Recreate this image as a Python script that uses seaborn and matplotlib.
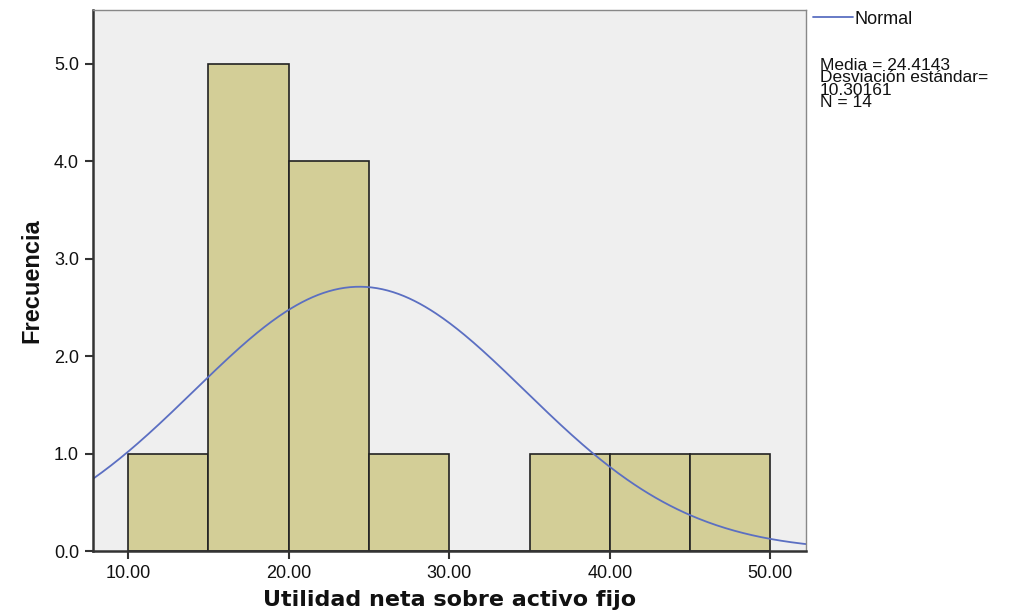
import numpy as np
import pandas as pd
import matplotlib
matplotlib.use("Agg")
import matplotlib.pyplot as plt
import seaborn as sns

# histogram bins
bin_edges = [10, 15, 20, 25, 30, 35, 40, 45, 50]
counts = [1, 5, 4, 1, 0, 1, 1, 1]

# stats printed in the legend
media = 24.4143
desv = 10.30161
n_obs = 14

x_ticks = [10, 20, 30, 40, 50]
y_ticks = [0, 1, 2, 3, 4, 5]

sns.set_style("white")
plt.rcParams["font.family"] = ["Liberation Sans", "DejaVu Sans"]

fig = plt.figure(figsize=(10.11, 6.10), dpi=100)
ax = fig.add_axes([0.092, 0.0967, 0.705, 0.887])
ax.set_facecolor("#efefef")

df = pd.DataFrame({
    "centro": [(a + b) / 2 for a, b in zip(bin_edges[:-1], bin_edges[1:])],
    "n": counts,
})
sns.histplot(data=df, x="centro", weights="n", bins=bin_edges, ax=ax,
             color="#d3ce97", alpha=1, edgecolor="#222222", linewidth=1.2)

# normal curve scaled to counts
xs = np.linspace(7.82, 52.2, 400)
bw = bin_edges[1] - bin_edges[0]
ys = n_obs * bw / (desv * np.sqrt(2 * np.pi)) * np.exp(-0.5 * ((xs - media) / desv) ** 2)
sns.lineplot(x=xs, y=ys, ax=ax, color="#5b6fc2", linewidth=1.3, label="Normal")

ax.set_xlim(7.82, 52.2)
ax.set_ylim(0, 5.55)
ax.set_xticks(x_ticks)
ax.set_xticklabels([f"{v:.2f}" for v in x_ticks], fontsize=13)
ax.set_yticks(y_ticks)
ax.set_yticklabels([f"{v:.1f}" for v in y_ticks], fontsize=13)
ax.tick_params(axis="both", bottom=True, left=True, direction="out", length=6,
               width=1.5, color="#333333", labelcolor="#111111", pad=4)

for s in ["left", "bottom"]:
    ax.spines[s].set_color("#333333")
    ax.spines[s].set_linewidth(1.8)
for s in ["top", "right"]:
    ax.spines[s].set_color("#888888")
    ax.spines[s].set_linewidth(1.0)

ax.set_xlabel("Utilidad neta sobre activo fijo", fontsize=16, fontweight="bold",
              labelpad=6, family=["DejaVu Sans"], color="#111111")
ax.set_ylabel("Frecuencia", fontsize=17, fontweight="bold", labelpad=8,
              color="#111111")

leg = ax.legend(loc="upper left", bbox_to_anchor=(1.0, 1.012), frameon=False,
                fontsize=13, handlelength=2.2, borderaxespad=0.0, handletextpad=0.1)
for t in leg.get_texts():
    t.set_color("#111111")

fig.text(0.811, 0.905,
         f"Media = {media}\nDesviación estándar=\n{desv}\nN = {n_obs}",
         fontsize=12.5, va="top", ha="left", linespacing=0.78, color="#111111")

fig.savefig("out.png", dpi=100, facecolor="white")
